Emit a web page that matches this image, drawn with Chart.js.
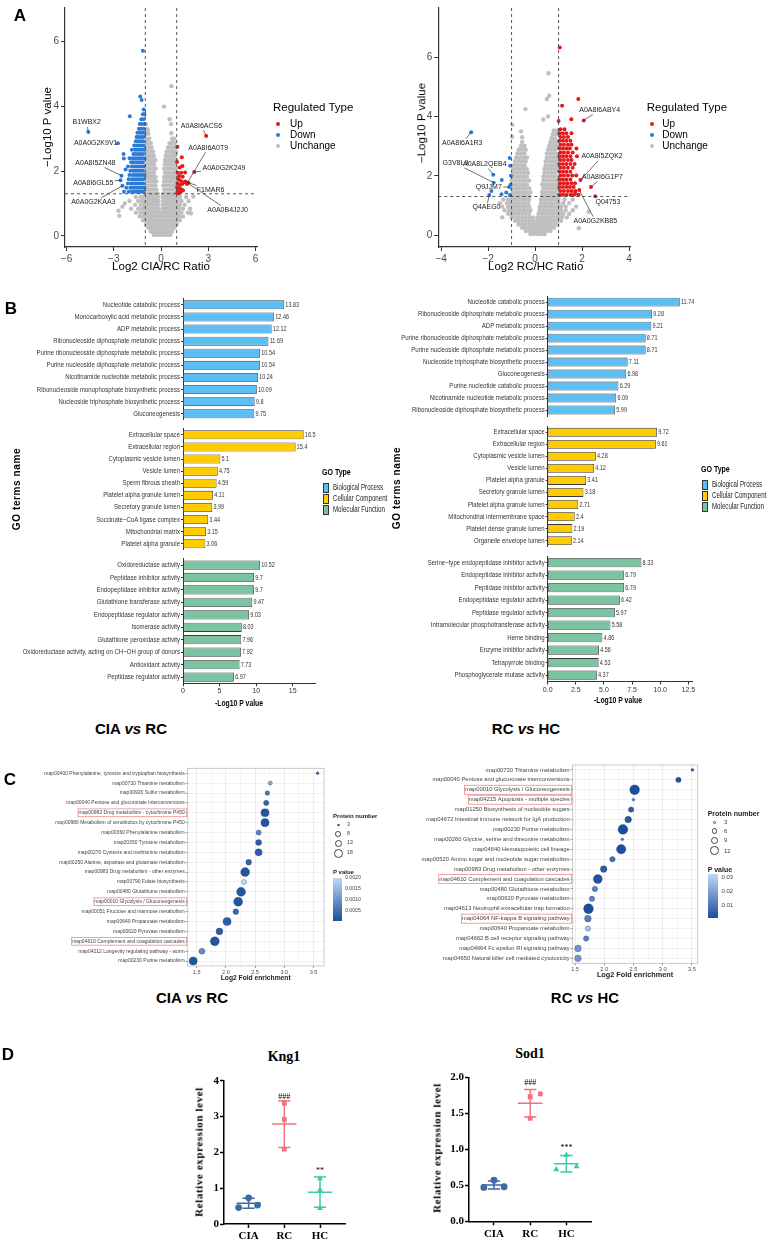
<!DOCTYPE html>
<html>
<head>
<meta charset="utf-8">
<title>Proteomics figure</title>
<script src="https://cdn.jsdelivr.net/npm/chart.js@4.4.1/dist/chart.umd.min.js"></script>
<style>
  body { margin: 0; background: #fff; }
  #fig { position: relative; width: 772px; height: 1244px; overflow: hidden; background: #fff;
         font-family: 'Liberation Sans', Arial, sans-serif; color: #000; }
  #fig canvas { position: absolute; }
  .t { position: absolute; white-space: nowrap; line-height: 1; }
  .b { position: absolute; box-sizing: border-box; }
</style>
</head>
<body>
<div id="fig"></div>
<script>
// ---------- A: volcano plots ----------
const volcLeftUp = [[2.87,3.08],[1.04,2.75],[1.32,2.43],[1.02,2.28],[1.19,2.11],[1.36,2.16],[1.53,1.96],[2.11,1.97],
  [1.38,1.83],[1.74,1.64],[1.55,1.68],[1.65,1.6],[1.05,1.95],[1.1,1.75],[1.25,1.7],[1.05,1.62],[1.2,1.57],[1.35,1.6],
  [1.45,1.66],[1.02,1.5],[1.15,1.47],[1.3,1.44],[1.08,1.38],[1.22,1.35],[1.4,1.4],[1.03,1.33],[1.15,1.85],[1.28,1.95],[1.12,1.32]];
const volcLeftDownRows = [
  [1.36,[-2.35,-2.05,-1.85,-1.7,-1.55,-1.4,-1.25,-1.1]],
  [1.49,[-2.2,-1.95,-1.8,-1.65,-1.5,-1.35,-1.2,-1.05]],
  [1.62,[-2.1,-1.9,-1.75,-1.6,-1.45,-1.3,-1.15]],
  [1.75,[-2.05,-1.85,-1.7,-1.55,-1.4,-1.25,-1.1]],
  [1.88,[-2.0,-1.8,-1.65,-1.5,-1.35,-1.2,-1.05]],
  [2.01,[-1.95,-1.75,-1.6,-1.45,-1.3,-1.15]],
  [2.14,[-2.1,-1.85,-1.7,-1.55,-1.4,-1.25,-1.1]],
  [2.27,[-1.9,-1.75,-1.6,-1.45,-1.3,-1.15]],
  [2.4,[-2.0,-1.8,-1.65,-1.5,-1.35,-1.2,-1.05]],
  [2.53,[-1.75,-1.6,-1.45,-1.3,-1.15]],
  [2.66,[-1.85,-1.65,-1.5,-1.35,-1.2,-1.05]],
  [2.79,[-1.7,-1.55,-1.4,-1.25,-1.1]],
  [2.92,[-1.6,-1.45,-1.3,-1.15]],
  [3.05,[-1.55,-1.4,-1.25,-1.1]],
  [3.18,[-1.5,-1.35,-1.2,-1.05]],
  [3.31,[-1.4,-1.25,-1.1]],
  [3.45,[-1.35,-1.2,-1.05]],
  [3.6,[-1.25,-1.1]],
  [3.75,[-1.15,-1.05]]];
const volcLeftDownOut = [[-4.62,3.21],[-2.74,2.86],[-2.38,2.53],[-2.36,2.39],[-2.51,1.86],[-2.57,1.72],[-2.45,1.55],
  [-1.15,5.71],[-1.32,4.3],[-1.23,4.19],[-1.98,3.69],[-1.1,3.9],[-2.25,2.05]];
const volcLeftGrayRows = [
  [0.04,[-0.45,-0.3,-0.15,0,0.15,0.3,0.45,0.6]],
  [0.14,[-0.65,-0.5,-0.35,-0.2,-0.05,0.1,0.25,0.4,0.55,0.7]],
  [0.25,[-0.8,-0.65,-0.5,-0.35,-0.2,-0.05,0.1,0.25,0.4,0.55,0.7,0.85]],
  [0.36,[-0.95,-0.8,-0.65,-0.5,-0.35,-0.2,-0.05,0.1,0.25,0.4,0.55,0.7,0.85,1.0]],
  [0.48,[-1.15,-0.95,-0.8,-0.65,-0.5,-0.35,-0.2,-0.05,0.1,0.25,0.4,0.55,0.7,0.85,1.0,1.2]],
  [0.6,[-1.35,-1.1,-0.95,-0.8,-0.65,-0.5,-0.35,-0.2,-0.05,0.1,0.25,0.4,0.55,0.7,0.85,1.0,1.15,1.4]],
  [0.72,[-1.6,-1.3,-1.15,-1.0,-0.85,-0.7,-0.55,-0.4,-0.25,-0.1,0.05,0.2,0.35,0.5,0.65,0.8,0.95,1.1,1.3,1.7]],
  [0.84,[-1.9,-1.45,-1.2,-1.05,-0.9,-0.75,-0.6,-0.45,-0.3,-0.15,0.1,0.25,0.4,0.55,0.7,0.85,1.0,1.15,1.4,1.85]],
  [0.96,[-1.65,-1.3,-1.1,-0.95,-0.8,-0.65,-0.5,-0.35,-0.2,0.1,0.25,0.4,0.55,0.7,0.85,1.0,1.2,1.5]],
  [1.08,[-2.0,-1.45,-1.2,-1.05,-0.9,-0.75,-0.6,-0.45,-0.3,-0.15,0.15,0.3,0.45,0.6,0.75,0.9,1.05,1.3,1.75]],
  [1.2,[-1.6,-1.3,-1.1,-0.95,-0.8,-0.65,-0.5,-0.35,-0.2,0.1,0.25,0.4,0.55,0.7,0.85,1.0,1.2,1.6]],
  [1.3,[-0.95,-0.8,-0.65,-0.5,-0.35,-0.2,0.15,0.3,0.45,0.6,0.75,0.9]],
  [1.43,[-0.9,-0.75,-0.6,-0.45,-0.3,0.2,0.35,0.5,0.65,0.8,0.95]],
  [1.56,[-0.95,-0.8,-0.65,-0.5,-0.35,0.15,0.3,0.45,0.6,0.75,0.9]],
  [1.69,[-0.9,-0.75,-0.6,-0.45,-0.3,0.2,0.35,0.5,0.65,0.8,0.95]],
  [1.82,[-0.95,-0.8,-0.65,-0.5,-0.35,0.2,0.35,0.5,0.65,0.8,0.95]],
  [1.95,[-0.9,-0.75,-0.6,-0.45,0.25,0.4,0.55,0.7,0.85]],
  [2.08,[-0.95,-0.8,-0.65,-0.5,-0.35,0.2,0.35,0.5,0.65,0.8,0.95]],
  [2.21,[-0.9,-0.75,-0.6,-0.45,0.25,0.4,0.55,0.7,0.85]],
  [2.34,[-0.95,-0.8,-0.65,-0.5,-0.35,0.25,0.4,0.55,0.7,0.85,0.98]],
  [2.47,[-0.9,-0.75,-0.6,-0.45,0.3,0.45,0.6,0.75,0.9]],
  [2.6,[-0.95,-0.8,-0.65,-0.5,0.35,0.5,0.65,0.8,0.95]],
  [2.73,[-0.9,-0.75,-0.6,0.45,0.6,0.75,0.9]],
  [2.86,[-0.95,-0.8,-0.65,0.55,0.7,0.85]],
  [3.0,[-0.9,-0.75,0.7,0.85]],
  [3.15,[-0.95,-0.8]],
  [3.3,[-0.9]],
  [3.45,[-0.95]]];
const volcLeftGrayOut = [[-2.7,0.78],[-2.65,0.62],[-2.3,1.0],[-2.45,0.9],[2.05,1.22],[1.9,0.7],[0.66,4.62],[0.19,3.99],
  [0.64,3.45],[0.66,3.17],[-0.83,3.27],[0.55,3.6],[0.9,2.55]];
const volcLeftLabels = [
  ['B1WBX2', -4.72, 3.5, -4.62, 3.21], ['A0A0G2K9V1', -4.15, 2.85, -2.74, 2.86],
  ['A0A8I5ZN48', -4.17, 2.25, -2.51, 1.86], ['A0A8I6GL55', -4.3, 1.64, -2.57, 1.72],
  ['A0A0G2KAA3', -4.3, 1.04, -2.45, 1.55], ['A0A8I6ACS6', 2.57, 3.4, 2.87, 3.08],
  ['A0A8I6A0T9', 3.0, 2.72, 1.65, 1.62], ['A0A0G2K249', 4.0, 2.09, 2.11, 1.97],
  ['F1MAR6', 3.15, 1.42, 1.74, 1.64], ['A0A0B4J2J0', 4.23, 0.8, 1.55, 1.68]];

const volcRightUpRows = [
  [1.36,[1.03,1.18,1.33,1.5,1.65,1.85]], [1.49,[1.08,1.23,1.4,1.56,1.72]], [1.62,[1.03,1.18,1.33,1.48,1.64]],
  [1.75,[1.08,1.23,1.38,1.55,1.7]], [1.88,[1.03,1.18,1.33,1.5]], [2.01,[1.08,1.23,1.4,1.58,1.75]],
  [2.14,[1.03,1.18,1.33,1.5]], [2.27,[1.08,1.23,1.4,1.6]], [2.4,[1.03,1.18,1.33,1.5,1.68]],
  [2.53,[1.08,1.23,1.4,1.55]], [2.66,[1.03,1.18,1.33,1.5,1.78]], [2.79,[1.08,1.23,1.4,1.6]],
  [2.92,[1.03,1.18,1.33,1.48,1.76]], [3.05,[1.08,1.23,1.4,1.55]], [3.18,[1.03,1.18,1.33,1.5]],
  [3.31,[1.08,1.23,1.4]], [3.44,[1.03,1.18,1.33,1.55]], [3.57,[1.08,1.25]]];
const volcRightUpOut = [[1.05,6.33],[1.84,4.59],[1.15,4.36],[2.07,3.87],[1.54,3.91],[1.0,3.85],[1.93,1.86],
  [2.38,1.62],[2.56,1.31],[1.88,1.52],[1.7,1.4]];
const volcRightDown = [[-2.72,3.47],[-1.08,2.6],[-1.06,2.34],[-1.78,2.04],[-1.03,2.0],[-1.42,1.86],[-1.76,1.77],
  [-1.1,1.62],[-1.86,1.49],[-1.95,1.35],[-1.43,1.38],[-1.23,1.44],[-1.08,1.35],[-1.05,1.7]];
const volcRightGrayRows = [
  [0.04,[-0.2,-0.05,0.1,0.25,0.4]],
  [0.14,[-0.4,-0.25,-0.1,0.05,0.2,0.35,0.5,0.65]],
  [0.25,[-0.55,-0.4,-0.25,-0.1,0.05,0.2,0.35,0.5,0.65,0.8]],
  [0.36,[-0.7,-0.55,-0.4,-0.25,-0.1,0.05,0.2,0.35,0.5,0.65,0.8,0.95]],
  [0.48,[-0.85,-0.7,-0.55,-0.4,-0.25,-0.1,0.05,0.2,0.35,0.5,0.65,0.8,0.95,1.1]],
  [0.6,[-1.0,-0.85,-0.7,-0.55,-0.4,-0.25,-0.1,0.1,0.25,0.4,0.55,0.7,0.85,1.0,1.15,1.35]],
  [0.72,[-1.15,-1.0,-0.85,-0.7,-0.55,-0.4,-0.25,0.15,0.3,0.45,0.6,0.75,0.9,1.05,1.2,1.45]],
  [0.84,[-1.3,-1.1,-0.95,-0.8,-0.65,-0.5,-0.35,-0.2,0.2,0.35,0.5,0.65,0.8,0.95,1.1,1.3,1.6]],
  [0.96,[-1.4,-1.15,-1.0,-0.85,-0.7,-0.55,-0.4,-0.25,0.2,0.35,0.5,0.65,0.8,0.95,1.1,1.3,1.75]],
  [1.08,[-1.5,-1.2,-1.05,-0.9,-0.75,-0.6,-0.45,-0.3,0.25,0.4,0.55,0.7,0.85,1.0,1.2,1.45]],
  [1.2,[-1.35,-1.15,-1.0,-0.85,-0.7,-0.55,-0.4,-0.25,0.25,0.4,0.55,0.7,0.85,1.0,1.25,1.6]],
  [1.32,[-1.0,-0.85,-0.7,-0.55,-0.4,-0.25,0.3,0.45,0.6,0.75,0.9]],
  [1.45,[-0.95,-0.8,-0.65,-0.5,-0.35,-0.2,0.3,0.45,0.6,0.75,0.9]],
  [1.58,[-1.0,-0.85,-0.7,-0.55,-0.4,-0.25,0.35,0.5,0.65,0.8,0.95]],
  [1.71,[-0.95,-0.8,-0.65,-0.5,-0.35,0.3,0.45,0.6,0.75,0.9]],
  [1.84,[-1.0,-0.85,-0.7,-0.55,-0.4,-0.25,0.35,0.5,0.65,0.8,0.95]],
  [1.97,[-0.95,-0.8,-0.65,-0.5,-0.35,0.35,0.5,0.65,0.8,0.95]],
  [2.1,[-0.9,-0.75,-0.6,-0.45,-0.3,0.4,0.55,0.7,0.85]],
  [2.23,[-0.95,-0.8,-0.65,-0.5,-0.35,0.4,0.55,0.7,0.85,0.98]],
  [2.36,[-0.9,-0.75,-0.6,-0.45,0.45,0.6,0.75,0.9]],
  [2.49,[-0.85,-0.7,-0.55,-0.4,0.45,0.6,0.75,0.9]],
  [2.62,[-0.8,-0.65,-0.5,-0.35,0.5,0.65,0.8,0.95]],
  [2.75,[-0.75,-0.6,-0.45,0.5,0.65,0.8,0.95]],
  [2.88,[-0.7,-0.55,-0.4,0.55,0.7,0.85]],
  [3.01,[-0.6,-0.45,0.6,0.75,0.9]],
  [3.14,[-0.55,0.65,0.8,0.95]],
  [3.27,[0.7,0.85]], [3.4,[0.75,0.9]], [3.53,[0.8,0.95]]];
const volcRightGrayOut = [[0.57,5.46],[0.5,4.59],[-0.41,4.25],[0.6,4.7],[-0.98,3.32],[-0.6,3.5],[1.86,0.23],
  [2.28,0.79],[-1.4,0.6],[0.55,4.0],[0.35,3.9],[-0.97,3.72],[-0.55,3.3]];
const volcRightLabels = [
  ['A0A8I6ABY4', 2.75, 4.22, 2.07, 3.87], ['A0A8I6A1R3', -3.1, 3.1, -2.72, 3.47],
  ['G3V8L9', -3.39, 2.42, -1.76, 1.77], ['A0A8L2QEB4', -2.14, 2.4, -1.78, 2.04],
  ['Q9JJM7', -1.97, 1.63, -1.1, 1.62], ['Q4AEG0', -2.07, 0.93, -1.95, 1.35],
  ['A0A8I5ZQK2', 2.85, 2.65, 1.93, 1.86], ['A0A8I6G1P7', 2.86, 1.97, 2.38, 1.62],
  ['Q04753', 3.1, 1.13, 2.56, 1.31], ['A0A0G2KB85', 2.56, 0.48, 1.88, 1.52]];

// ---------- B: GO enrichment ----------
const goLeftBP = ['Nucleotide catabolic process','Monocarboxylic acid metabolic process','ADP metabolic process',
  'Ribonucleoside diphosphate metabolic process','Purine ribonucleoside diphosphate metabolic process',
  'Purine nucleoside diphosphate metabolic process','Nicotinamide nucleotide metabolic process',
  'Ribonucleoside monophosphate biosynthetic process','Nucleoside triphosphate biosynthetic process','Gluconeogenesis'];
const goLeftBPVal = [13.83,12.46,12.12,11.69,10.54,10.54,10.24,10.09,9.8,9.75];
const goLeftCC = ['Extracellular space','Extracellular region','Cytoplasmic vesicle lumen','Vesicle lumen',
  'Sperm fibrous sheath','Platelet alpha granule lumen','Secretory granule lumen','Succinate\u2212CoA ligase complex',
  'Mitochondrial matrix','Platelet alpha granule'];
const goLeftCCVal = [16.5,15.4,5.1,4.75,4.59,4.11,3.99,3.44,3.15,3.06];
const goLeftMF = ['Oxidoreductase activity','Peptidase inhibitor activity','Endopeptidase inhibitor activity',
  'Glutathione transferase activity','Endopeptidase regulator activity','Isomerase activity',
  'Glutathione peroxidase activity','Oxidoreductase activity, acting on CH\u2212OH group of donors',
  'Antioxidant activity','Peptidase regulator activity'];
const goLeftMFVal = [10.52,9.7,9.7,9.47,9.03,8.03,7.96,7.92,7.73,6.97];
const goRightBP = ['Nucleotide catabolic process','Ribonucleoside diphosphate metabolic process','ADP metabolic process',
  'Purine ribonucleoside diphosphate metabolic process','Purine nucleoside diphosphate metabolic process',
  'Nucleoside triphosphate biosynthetic process','Gluconeogenesis','Purine nucleotide catabolic process',
  'Nicotinamide nucleotide metabolic process','Ribonucleoside diphosphate biosynthetic process'];
const goRightBPVal = [11.74,9.28,9.21,8.71,8.71,7.11,6.98,6.29,6.09,5.99];
const goRightCC = ['Extracellular space','Extracellular region','Cytoplasmic vesicle lumen','Vesicle lumen',
  'Platelet alpha granule','Secretory granule lumen','Platelet alpha granule lumen','Mitochondrial intermembrane space',
  'Platelet dense granule lumen','Organelle envelope lumen'];
const goRightCCVal = [9.72,9.61,4.28,4.12,3.41,3.18,2.71,2.4,2.19,2.14];
const goRightMF = ['Serine\u2212type endopeptidase inhibitor activity','Endopeptidase inhibitor activity',
  'Peptidase inhibitor activity','Endopeptidase regulator activity','Peptidase regulator activity',
  'Intramolecular phosphotransferase activity','Heme binding','Enzyme inhibitor activity','Tetrapyrrole binding',
  'Phosphoglycerate mutase activity'];
const goRightMFVal = [8.33,6.79,6.79,6.42,5.97,5.58,4.86,4.56,4.53,4.37];
const goTypes = ['Biological Process','Cellular Component','Molecular Function'];

// ---------- C: KEGG enrichment ----------
const keggLeftTerms = ['map00400 Phenylalanine, tyrosine and tryptophan biosynthesis','map00730 Thiamine metabolism',
  'map00920 Sulfur metabolism','map00040 Pentose and glucuronate interconversions','map00982 Drug metabolism - cytochrome P450',
  'map00980 Metabolism of xenobiotics by cytochrome P450','map00360 Phenylalanine metabolism','map00350 Tyrosine metabolism',
  'map00270 Cysteine and methionine metabolism','map00250 Alanine, aspartate and glutamate metabolism',
  'map00983 Drug metabolism - other enzymes','map00790 Folate biosynthesis','map00480 Glutathione metabolism',
  'map00010 Glycolysis / Gluconeogenesis','map00051 Fructose and mannose metabolism','map00640 Propanoate metabolism',
  'map00620 Pyruvate metabolism','map04610 Complement and coagulation cascades','map04212 Longevity regulating pathway - worm',
  'map00230 Purine metabolism'];
const keggLeftFold = [3.57,2.76,2.71,2.69,2.67,2.67,2.56,2.56,2.56,2.39,2.33,2.31,2.26,2.21,2.17,2.02,1.89,1.81,1.59,1.44];
const keggLeftCount = [3,5,6,7,15,15,7,9,12,8,18,7,18,18,8,15,11,18,9,15];
const keggLeftP = [0.0004,0.0013,0.0006,0.0003,0.0001,0.0001,0.0008,0.0002,0.0002,0.0003,0.0001,0.0020,0.0001,
  0.0001,0.0004,0.0002,0.0002,0.0001,0.0009,0.0001];
const keggLeftBoxed = [4, 13, 17];
const keggRightTerms = ['map00730 Thiamine metabolism','map00040 Pentose and glucuronate interconversions',
  'map00010 Glycolysis / Gluconeogenesis','map04215 Apoptosis - multiple species','map01250 Biosynthesis of nucleotide sugars',
  'map04672 Intestinal immune network for IgA production','map00230 Purine metabolism',
  'map00260 Glycine, serine and threonine metabolism','map04640 Hematopoietic cell lineage',
  'map00520 Amino sugar and nucleotide sugar metabolism','map00983 Drug metabolism - other enzymes',
  'map04610 Complement and coagulation cascades','map00480 Glutathione metabolism','map00620 Pyruvate metabolism',
  'map04613 Neutrophil extracellular trap formation','map04064 NF-kappa B signaling pathway','map00640 Propanoate metabolism',
  'map04662 B cell receptor signaling pathway','map04664 Fc epsilon RI signaling pathway',
  'map04650 Natural killer cell mediated cytotoxicity'];
const keggRightFold = [3.51,3.27,2.52,2.50,2.46,2.41,2.32,2.31,2.29,2.14,1.99,1.89,1.84,1.79,1.73,1.72,1.72,1.69,1.55,1.55];
const keggRightCount = [3,6,15,3,6,8,15,3,14,6,8,13,6,6,15,8,6,6,8,8];
const keggRightP = [0.002,0.002,0.001,0.012,0.004,0.003,0.001,0.013,0.001,0.008,0.004,0.002,0.012,0.013,0.001,
  0.012,0.027,0.012,0.017,0.017];
const keggRightBoxed = [2, 3, 11, 15];

// ---------- D: qPCR validation ----------
const groups = ['CIA', 'RC', 'HC'];
const kng1Pts = [[0.73, 0.46, 0.53], [3.37, 2.92, 2.09], [1.27, 0.95, 0.44]];
const kng1Jit = [[0, -0.28, 0.25], [0, 0, 0], [0, 0, 0]];
const kng1Mean = [0.58, 2.79, 0.89];
const kng1Sd = [0.14, 0.65, 0.42];
const kng1Sig = [[2, 3.55, '###'], [3, 1.47, '**']];
const sod1Pts = [[0.57, 0.47, 0.48], [1.77, 1.73, 1.43], [0.92, 0.76, 0.72]];
const sod1Jit = [[0, -0.28, 0.28], [0.28, 0, 0], [0, 0.28, -0.28]];
const sod1Mean = [0.505, 1.64, 0.80];
const sod1Sd = [0.055, 0.19, 0.115];
const sod1Sig = [[2, 1.92, '###'], [3, 1.02, '***']];

// ---------- helpers ----------
const SANS = "'Liberation Sans', Arial, Helvetica, sans-serif";
const SERIF = "'Liberation Serif', 'Times New Roman', serif";
const RED = '#E41A1C', BLUE = '#2C7BD6', GREY = '#BFBFBF';
const GO_COL = ['#5BBEF4', '#FFCC00', '#7CC3A1'];
const DCOL = ['#3D6BA3', '#F0737B', '#3EC8A7'];
const SHAPES = ['circle', 'rect', 'triangle'];
const PDARK = [28, 78, 157], PLIGHT = [192, 217, 244];

const fig = document.getElementById('fig');
const pairs = p => p.map(([x, y]) => ({ x, y }));
const rows = r => r.flatMap(([y, xs]) => xs.map(x => ({ x, y })));
const minus = v => String(v).replace('-', '\u2212');

// html text; opt.left = left anchored, opt.rot = vertical, opt.sx = horizontal squeeze (narrow font look)
function txt(s, x, y, css, opt = {}) {
  const d = document.createElement('div');
  d.className = 't';
  d.innerHTML = s;
  d.style.cssText = `left:${x}px;top:${y}px;` + css;
  d.style.transformOrigin = opt.left ? 'left center' : 'center center';
  d.style.transform = `translate(${opt.left ? '0' : '-50%'},-50%)` + (opt.rot ? ' rotate(-90deg)' : '') +
    (opt.sx ? ` scaleX(${opt.sx})` : '');
  fig.appendChild(d);
}
function box(x, y, w, h, css) {
  const d = document.createElement('div');
  d.className = 'b';
  d.style.cssText = `left:${x}px;top:${y}px;width:${w}px;height:${h}px;` + css;
  fig.appendChild(d);
}
// canvas placed in figure coords; L,T,R,B = wanted plot area edges
function frame(x, y, w, h, L, T, R, B, noX) {
  const c = document.createElement('canvas');
  c.width = w; c.height = h;
  c.style.left = x + 'px'; c.style.top = y + 'px';
  fig.appendChild(c);
  const xh = y + h - B;
  return { c, xh, yw: L - x, pad: { left: 0, top: T - y, right: x + w - R, bottom: noX ? xh : 0 } };
}
const fit = n => s => {
  if (s.isHorizontal()) s.height = n; else s.width = n;
  s.paddingLeft = s.paddingRight = s.paddingTop = s.paddingBottom = 0;
};
function baseOpts(f) {
  return { responsive: false, animation: false, events: [], layout: { padding: f.pad },
    plugins: { legend: { display: false }, tooltip: { enabled: false } } };
}
function pColor(p, [lo, hi]) {
  const t = Math.max(0, Math.min(1, (p - lo) / (hi - lo)));
  return 'rgb(' + PDARK.map((v, i) => Math.round(v + (PLIGHT[i] - v) * t)).join(',') + ')';
}
function bubbleR(n, [n0, n1, r0, r1]) {
  return Math.sqrt(r0 * r0 + (n - n0) / (n1 - n0) * (r1 * r1 - r0 * r0));
}
function squeezed(ctx, text, x, y, sx) {
  ctx.save(); ctx.translate(x, y); ctx.scale(sx, 1); ctx.fillText(text, 0, 0); ctx.restore();
}

// ---------- plugins ----------
function cutoffs(xs, ys) {
  return { id: 'cutoffs', afterDatasetsDraw(ch) {
    const { ctx, chartArea: a, scales: { x, y } } = ch;
    ctx.save(); ctx.strokeStyle = '#444'; ctx.lineWidth = 0.9; ctx.setLineDash([3, 3]);
    xs.forEach(v => { const p = x.getPixelForValue(v); ctx.beginPath(); ctx.moveTo(p, a.top); ctx.lineTo(p, a.bottom); ctx.stroke(); });
    ys.forEach(v => { const p = y.getPixelForValue(v); ctx.beginPath(); ctx.moveTo(a.left, p); ctx.lineTo(a.right, p); ctx.stroke(); });
    ctx.restore();
  } };
}
function repel(items) {
  return { id: 'repel', afterDatasetsDraw(ch) {
    const { ctx, scales: { x, y } } = ch;
    ctx.save();
    ctx.font = '7px ' + SANS; ctx.textAlign = 'center'; ctx.textBaseline = 'middle';
    items.forEach(([t, tx, ty, px, py]) => {
      const cx = x.getPixelForValue(tx), cy = y.getPixelForValue(ty);
      const ex = x.getPixelForValue(px), ey = y.getPixelForValue(py);
      const hw = ctx.measureText(t).width / 2 + 1.5, hh = 4.5;
      const dx = ex - cx, dy = ey - cy;
      const k = Math.min(dx ? hw / Math.abs(dx) : Infinity, dy ? hh / Math.abs(dy) : Infinity);
      if (k < 1) {
        ctx.strokeStyle = '#333'; ctx.lineWidth = 0.7;
        ctx.beginPath(); ctx.moveTo(cx + dx * k, cy + dy * k); ctx.lineTo(ex, ey); ctx.stroke();
      }
      ctx.fillStyle = '#222'; ctx.fillText(t, cx, cy);
    });
    ctx.restore();
  } };
}
// term names and bar values in a squeezed sans, like the narrow face of the original
function goText(clip) {
  return { id: 'goText', afterDatasetsDraw(ch) {
    const { ctx, chartArea: a } = ch;
    const s = ch.scales.y, vals = ch.data.datasets[0].data;
    ctx.save();
    ctx.fillStyle = '#333'; ctx.textBaseline = 'middle';
    ctx.font = '7.4px ' + SANS; ctx.textAlign = 'right';
    s.ticks.forEach((t, i) => squeezed(ctx, t.label, s.right - 3, s.getPixelForTick(i), 0.82));
    if (clip) { ctx.beginPath(); ctx.rect(0, 0, a.right + 1.5, ch.height); ctx.clip(); }
    ctx.font = '7.4px ' + SANS; ctx.textAlign = 'left';
    ch.getDatasetMeta(0).data.forEach((bar, i) => squeezed(ctx, String(vals[i]), bar.x + 1.2, bar.y, 0.74));
    ctx.restore();
  } };
}
const panelBorder = { id: 'panelBorder', afterDraw(ch) {
  const { ctx, chartArea: a } = ch;
  ctx.save(); ctx.strokeStyle = '#BDBDBD'; ctx.lineWidth = 0.8;
  ctx.strokeRect(a.left, a.top, a.right - a.left, a.bottom - a.top); ctx.restore();
} };
function boxLabels(idx, size) {
  return { id: 'boxLabels', afterDraw(ch) {
    const s = ch.scales.y, ctx = ch.ctx;
    ctx.save(); ctx.font = size + 'px ' + SANS; ctx.strokeStyle = '#EE8A8A'; ctx.lineWidth = 0.8;
    idx.forEach(i => {
      const y = s.getPixelForTick(i), w = ctx.measureText(s.ticks[i].label).width, r = s.right - 2;
      ctx.strokeRect(r - w - 1.5, y - size * 0.78, w + 2.5, size * 1.56);
    });
    ctx.restore();
  } };
}
function errBars(mean, sd) {
  return { id: 'errBars', beforeDatasetsDraw(ch) {
    const { ctx, scales: { x, y } } = ch;
    ctx.save(); ctx.lineWidth = 1.5;
    mean.forEach((m, i) => {
      const px = v => x.getPixelForValue(i + 1 + v);
      const hi = y.getPixelForValue(m + sd[i]), lo = y.getPixelForValue(m - sd[i]), mp = y.getPixelForValue(m);
      ctx.strokeStyle = DCOL[i];
      ctx.beginPath();
      ctx.moveTo(px(-0.34), mp); ctx.lineTo(px(0.34), mp);
      ctx.moveTo(px(0), hi); ctx.lineTo(px(0), lo);
      ctx.moveTo(px(-0.17), hi); ctx.lineTo(px(0.17), hi);
      ctx.moveTo(px(-0.17), lo); ctx.lineTo(px(0.17), lo);
      ctx.stroke();
    });
    ctx.restore();
  } };
}
function sigMarks(items) {
  return { id: 'sigMarks', afterDatasetsDraw(ch) {
    const { ctx, scales: { x, y } } = ch;
    ctx.save(); ctx.font = '8px ' + SERIF; ctx.fillStyle = '#000'; ctx.textAlign = 'center'; ctx.textBaseline = 'middle';
    items.forEach(([g, v, t]) => ctx.fillText(t, x.getPixelForValue(g), y.getPixelForValue(v)));
    ctx.restore();
  } };
}

// ---------- chart builders ----------
function volcano(f, xr, yr, xStep, up, down, gray, labs) {
  const axis = (n, min, max, step) => ({
    type: 'linear', min, max, afterFit: fit(n),
    ticks: { stepSize: step, includeBounds: false, maxRotation: 0, padding: 2, color: '#4D4D4D',
      font: { family: SANS, size: 10 }, callback: minus },
    grid: { drawOnChartArea: false, tickLength: 4, tickColor: '#333' },
    border: { color: '#333', width: 1.2 }
  });
  const pt = (data, col, order, r) => ({ data, order, pointRadius: r, pointBorderWidth: 0,
    pointBackgroundColor: col, backgroundColor: col });
  new Chart(f.c, {
    type: 'scatter',
    data: { datasets: [pt(up, RED, 1, 2), pt(down, BLUE, 1, 2), pt(gray, GREY, 2, 2.2)] },
    options: Object.assign(baseOpts(f), { scales: { x: axis(f.xh, xr[0], xr[1], xStep), y: axis(f.yw, yr[0], yr[1], 2) } }),
    plugins: [cutoffs([-1, 1], [1.301]), repel(labs)]
  });
}

function goChart(f, labels, vals, color, xMax, xStep, showX, clip, dec) {
  new Chart(f.c, {
    type: 'bar',
    data: { labels, datasets: [{ data: vals, backgroundColor: color, borderColor: '#3A3A3A', borderWidth: 0.8,
      borderSkipped: false, barPercentage: 0.74, categoryPercentage: 1 }] },
    options: Object.assign(baseOpts(f), { indexAxis: 'y', scales: {
      y: { afterFit: fit(f.yw),
        ticks: { autoSkip: false, padding: 1, color: 'rgba(0,0,0,0)', font: { family: SANS, size: 7 } },
        grid: { offset: false, drawOnChartArea: false, tickLength: 2, tickColor: '#333' },
        border: { color: '#333', width: 1 } },
      x: { display: showX, min: 0, max: xMax, afterFit: fit(f.xh),
        ticks: { stepSize: xStep, includeBounds: false, maxRotation: 0, padding: 1, color: '#333',
          font: { family: SANS, size: 7 }, callback: v => dec ? v.toFixed(1) : String(v) },
        grid: { drawOnChartArea: false, tickLength: 3, tickColor: '#333' },
        border: { color: '#333', width: 1 } }
    } }),
    plugins: [goText(clip)]
  });
}

function keggChart(f, terms, fold, count, pv, boxed, xr, nR, pR, fs, xfs) {
  const major = v => Math.abs(v * 2 - Math.round(v * 2)) < 1e-6;
  new Chart(f.c, {
    type: 'bubble',
    data: { datasets: [{
      data: terms.map((t, i) => ({ x: fold[i], y: t })),
      backgroundColor: c => c.dataIndex == null ? '#333' : pColor(pv[c.dataIndex], pR),
      borderColor: 'rgba(15,35,80,0.5)', borderWidth: 0.5,
      radius: c => c.dataIndex == null ? 3 : bubbleR(count[c.dataIndex], nR)
    }] },
    options: Object.assign(baseOpts(f), { scales: {
      x: { type: 'linear', min: xr[0], max: xr[1], afterFit: fit(f.xh),
        ticks: { stepSize: 0.25, includeBounds: false, maxRotation: 0, padding: 1, color: '#4D4D4D',
          font: { family: SANS, size: xfs }, callback: v => major(v) ? v.toFixed(1) : '' },
        grid: { color: c => major(c.tick.value) ? '#E4E4E4' : '#F2F2F2', lineWidth: 0.7, tickLength: 2,
          tickColor: c => major(c.tick.value) ? '#666' : 'rgba(0,0,0,0)' },
        border: { display: false } },
      y: { type: 'category', labels: terms, offset: true, afterFit: fit(f.yw),
        ticks: { autoSkip: false, padding: 1, color: '#444', font: { family: SANS, size: fs } },
        grid: { offset: false, color: '#EBEBEB', lineWidth: 0.7, tickLength: 2, tickColor: '#666' },
        border: { display: false } }
    } }),
    plugins: [panelBorder, boxLabels(boxed, fs)]
  });
}

function dotChart(f, pts, jit, mean, sd, xr, yMax, yStep, dec, sig) {
  const font = { family: SERIF, size: 11, weight: 'bold' };
  new Chart(f.c, {
    type: 'scatter',
    data: { datasets: pts.map((g, i) => ({
      data: g.map((v, j) => ({ x: i + 1 + jit[i][j], y: v })),
      pointStyle: SHAPES[i], pointRadius: 3.4, pointBorderWidth: 0,
      pointBackgroundColor: DCOL[i], backgroundColor: DCOL[i]
    })) },
    options: Object.assign(baseOpts(f), { scales: {
      x: { type: 'linear', min: xr[0], max: xr[1], afterFit: fit(f.xh),
        afterBuildTicks: s => { s.ticks = groups.map((g, i) => ({ value: i + 1 })); },
        ticks: { font, color: '#000', padding: 2, maxRotation: 0, callback: v => groups[v - 1] },
        grid: { drawOnChartArea: false, tickLength: 4, tickColor: '#000', tickWidth: 1.5 },
        border: { color: '#000', width: 1.5 } },
      y: { min: 0, max: yMax, afterFit: fit(f.yw),
        ticks: { stepSize: yStep, font, color: '#000', padding: 1, callback: v => dec ? v.toFixed(1) : String(v) },
        grid: { drawOnChartArea: false, tickLength: 4, tickColor: '#000', tickWidth: 1.5 },
        border: { color: '#000', width: 1.5 } }
    } }),
    plugins: [errBars(mean, sd), sigMarks(sig)]
  });
}

// ---------- panel A ----------
volcano(frame(0, 0, 385, 280, 65, 8, 257, 247), [-6.1, 6.1], [-0.34, 7.03], 3,
  pairs(volcLeftUp), rows(volcLeftDownRows).concat(pairs(volcLeftDownOut)),
  rows(volcLeftGrayRows).concat(pairs(volcLeftGrayOut)), volcLeftLabels);
volcano(frame(385, 0, 387, 280, 438.3, 8, 630.5, 247), [-4.12, 4.06], [-0.4, 7.66], 2,
  rows(volcRightUpRows).concat(pairs(volcRightUpOut)), pairs(volcRightDown),
  rows(volcRightGrayRows).concat(pairs(volcRightGrayOut)), volcRightLabels);

txt('A', 20, 15, 'font-weight:bold;font-size:17px');
txt('\u2212Log10 P value', 48.3, 126.7, 'font-size:11.5px', { rot: 1 });
txt('Log2 CIA/RC Ratio', 161, 266.7, 'font-size:11.5px');
txt('\u2212Log10 P value', 421.7, 123.3, 'font-size:11.5px', { rot: 1 });
txt('Log2 RC/HC Ratio', 535.7, 266.7, 'font-size:11.5px');
[[273, 278.3, 290, [108.3, 124.3, 135, 146.3]], [646.7, 651.7, 662.3, [108.3, 123.7, 134.7, 145.7]]]
  .forEach(([tx, dx, lx, ys]) => {
    txt('Regulated Type', tx, ys[0], 'font-size:11.5px', { left: 1 });
    [['Up', RED], ['Down', BLUE], ['Unchange', GREY]].forEach(([n, c], i) => {
      box(dx - 2, ys[i + 1] - 2, 4, 4, `border-radius:50%;background:${c}`);
      txt(n, lx, ys[i + 1], 'font-size:10px', { left: 1 });
    });
  });

// ---------- panel B ----------
goChart(frame(0, 292, 385, 134, 183, 298.8, 315, 422.9, true), goLeftBP, goLeftBPVal, GO_COL[0], 18.05, 5, false, false, false);
goChart(frame(0, 422, 385, 134, 183, 428.8, 315, 552.9, true), goLeftCC, goLeftCCVal, GO_COL[1], 18.05, 5, false, false, false);
goChart(frame(0, 552, 385, 150, 183, 558.8, 315, 683.3), goLeftMF, goLeftMFVal, GO_COL[2], 18.05, 5, true, false, false);
goChart(frame(385, 290, 387, 134, 547.7, 296.1, 692.8, 420, true), goRightBP, goRightBPVal, GO_COL[0], 12.9, 2.5, false, true, true);
goChart(frame(385, 420, 387, 134, 547.7, 426.3, 692.8, 550.3, true), goRightCC, goRightCCVal, GO_COL[1], 12.9, 2.5, false, true, true);
goChart(frame(385, 550, 387, 150, 547.7, 556.3, 692.8, 681.5), goRightMF, goRightMFVal, GO_COL[2], 12.9, 2.5, true, true, true);

txt('B', 11, 308, 'font-weight:bold;font-size:17px');
txt('GO terms name', 17, 489, 'font-weight:bold;font-size:10px;letter-spacing:0.6px', { rot: 1 });
txt('GO terms name', 396.7, 488, 'font-weight:bold;font-size:10px;letter-spacing:0.6px', { rot: 1 });
txt('-Log10 P value', 239.3, 703.3, 'font-weight:bold;font-size:9.5px', { sx: 0.72 });
txt('-Log10 P value', 618.3, 700, 'font-weight:bold;font-size:9.5px', { sx: 0.72 });
[[322.3, 322.7, 333, [471.7, 487.7, 498.7, 509.7]], [701, 701.7, 711.7, [469, 485, 496, 507]]]
  .forEach(([tx, sx, lx, ys]) => {
    txt('GO Type', tx, ys[0], 'font-weight:bold;font-size:9.5px', { left: 1, sx: 0.74 });
    goTypes.forEach((n, i) => {
      box(sx, ys[i + 1] - 5, 6.6, 10, `background:${GO_COL[i]};border:0.8px solid #333`);
      txt(n, lx, ys[i + 1], 'font-size:8.2px;color:#222', { left: 1, sx: 0.75 });
    });
  });
txt('CIA <i>vs</i> RC', 131, 728, 'font-weight:bold;font-size:15px');
txt('RC <i>vs</i> HC', 526, 728, 'font-weight:bold;font-size:15px');

// ---------- panel C ----------
const nRL = [3, 18, 1.4, 4.5], nRR = [3, 12, 1.4, 4.3];
const pRL = [0, 0.002], pRR = [0.0009, 0.0317];
keggChart(frame(0, 760, 385, 218, 187.7, 768.3, 324, 966), keggLeftTerms, keggLeftFold, keggLeftCount, keggLeftP,
  keggLeftBoxed, [1.346, 3.68], nRL, pRL, 5, 5.5);
keggChart(frame(385, 757, 387, 218, 572.7, 765, 697.7, 963.3), keggRightTerms, keggRightFold, keggRightCount, keggRightP,
  keggRightBoxed, [1.46, 3.6], nRR, pRR, 5.8, 5.6);

txt('C', 10, 779, 'font-weight:bold;font-size:17px');
txt('Log2 Fold enrichment', 255.7, 977.7, 'font-weight:bold;font-size:6.7px;color:#222');
txt('Log2 Fold enrichment', 635, 975.3, 'font-weight:bold;font-size:7.3px;color:#222');
[[333, 338.3, 347, 816, [3, 8, 13, 18], [825, 834.3, 843.3, 853.3], nRL, 872, 878, 9, 42.7,
  ['0.0020', '0.0015', '0.0010', '0.0005'], [878.3, 889.3, 900, 911], 345, 6, 5.2],
 [707.7, 714.3, 724, 813.3, [3, 6, 9, 12], [822.3, 831, 840.3, 850.7], nRR, 869.3, 874.3, 10.6, 44,
  ['0.03', '0.02', '0.01'], [876.7, 891, 905.3], 721.5, 7, 6]]
  .forEach(([lx, cx, nx, ty, ns, ys, nR, py, gy, gw, gh, pl, pys, plx, hf, lf]) => {
    txt('Protein number', lx, ty, `font-weight:bold;font-size:${hf}px;color:#222`, { left: 1 });
    ns.forEach((n, i) => {
      const r = bubbleR(n, nR);
      box(cx - r, ys[i] - r, 2 * r, 2 * r, 'border:0.7px solid #444;border-radius:50%');
      txt(String(n), nx, ys[i], `font-size:${lf}px;color:#444`, { left: 1 });
    });
    txt('P value', lx, py, `font-weight:bold;font-size:${hf}px;color:#222`, { left: 1 });
    box(lx, gy, gw, gh, `background:linear-gradient(to bottom, rgb(${PLIGHT}), rgb(${PDARK}))`);
    pl.forEach((s, i) => txt(s, plx, pys[i], `font-size:${lf}px;color:#444`, { left: 1 }));
  });
txt('CIA <i>vs</i> RC', 192, 996.5, 'font-weight:bold;font-size:15px');
txt('RC <i>vs</i> HC', 585, 996.5, 'font-weight:bold;font-size:15px');

// ---------- panel D ----------
dotChart(frame(150, 1070, 220, 174, 224, 1080.8, 345, 1224), kng1Pts, kng1Jit, kng1Mean, kng1Sd, [0.31, 3.7], 4, 1, false, kng1Sig);
dotChart(frame(400, 1066, 210, 178, 469, 1077.3, 591, 1221.3), sod1Pts, sod1Jit, sod1Mean, sod1Sd, [0.31, 3.68], 2, 0.5, true, sod1Sig);

txt('D', 8, 1053.5, 'font-weight:bold;font-size:17px');
txt('Kng1', 284, 1056.7, `font-weight:bold;font-size:14px;font-family:${SERIF}`);
txt('Sod1', 530, 1054.3, `font-weight:bold;font-size:14px;font-family:${SERIF}`);
txt('Relative expression level', 199, 1151.7, `font-weight:bold;font-size:11px;letter-spacing:0.6px;font-family:${SERIF}`, { rot: 1 });
txt('Relative expression level', 436.5, 1148.3, `font-weight:bold;font-size:11px;letter-spacing:0.6px;font-family:${SERIF}`, { rot: 1 });
</script>
</body>
</html>
